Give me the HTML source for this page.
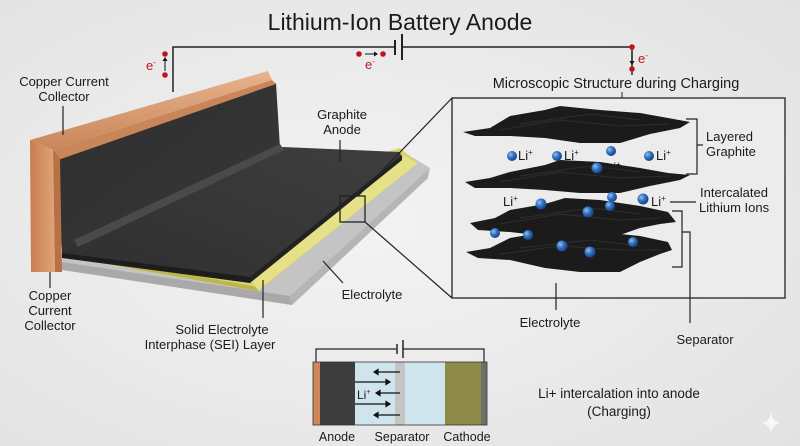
<!DOCTYPE html>
<html><head><meta charset="utf-8"><style>
html,body{margin:0;padding:0;background:#ebebeb;}
svg{display:block;}
text{font-family:"Liberation Sans",sans-serif;fill:#1a1a1a;}
</style></head><body>
<svg width="800" height="446" viewBox="0 0 800 446" xmlns="http://www.w3.org/2000/svg">
<defs>
<radialGradient id="bg" cx="0.45" cy="0.5" r="0.75"><stop offset="0" stop-color="#f3f3f3"/><stop offset="1" stop-color="#e2e2e2"/></radialGradient>
<linearGradient id="cu" x1="0" y1="0" x2="1" y2="0"><stop offset="0" stop-color="#c77d4e"/><stop offset="1" stop-color="#e0a478"/></linearGradient>
<linearGradient id="cu2" x1="0" y1="0" x2="0" y2="1"><stop offset="0" stop-color="#e8b48c"/><stop offset="1" stop-color="#c9855a"/></linearGradient>
<linearGradient id="wall" x1="0" y1="0" x2="1" y2="1"><stop offset="0" stop-color="#2e2e2e"/><stop offset="1" stop-color="#383838"/></linearGradient>
<linearGradient id="floor" x1="0" y1="1" x2="1" y2="0"><stop offset="0" stop-color="#2f2f2f"/><stop offset="1" stop-color="#3e3e3e"/></linearGradient>
<radialGradient id="ball" cx="0.35" cy="0.35" r="0.7"><stop offset="0" stop-color="#8fc0f0"/><stop offset="0.5" stop-color="#2f6fc0"/><stop offset="1" stop-color="#173e7a"/></radialGradient>
</defs>
<rect width="800" height="446" fill="url(#bg)"/>

<text x="400" y="30" font-size="23" text-anchor="middle">Lithium-Ion Battery Anode</text>

<!-- circuit -->
<polyline points="173,92 173,47 395,47" fill="none" stroke="#222" stroke-width="1.5"/>
<polyline points="403,47 632,47 632,75" fill="none" stroke="#222" stroke-width="1.5"/>
<line x1="395" y1="40" x2="395" y2="55" stroke="#222" stroke-width="2"/>
<line x1="402" y1="34" x2="402" y2="60" stroke="#222" stroke-width="2"/>
<circle cx="165" cy="54" r="2.8" fill="#c0141c"/><circle cx="165" cy="75" r="2.8" fill="#c0141c"/>
<line x1="165" y1="71" x2="165" y2="60" stroke="#111" stroke-width="1"/><path d="M162.5,61 L165,57 L167.5,61Z" fill="#111"/>
<text x="146" y="70" font-size="13" style="fill:#c0141c">e<tspan font-size="8" dy="-5">-</tspan></text>
<circle cx="359" cy="54" r="2.8" fill="#c0141c"/><circle cx="383" cy="54" r="2.8" fill="#c0141c"/>
<line x1="365" y1="54" x2="375" y2="54" stroke="#111" stroke-width="1"/><path d="M374,51.5 L378,54 L374,56.5Z" fill="#111"/>
<text x="365" y="69" font-size="13" style="fill:#c0141c">e<tspan font-size="8" dy="-5">-</tspan></text>
<circle cx="632" cy="47" r="2.8" fill="#c0141c"/><circle cx="632" cy="69" r="2.8" fill="#c0141c"/>
<line x1="632" y1="52" x2="632" y2="62" stroke="#111" stroke-width="1"/><path d="M629.5,61 L632,65 L634.5,61Z" fill="#111"/>
<text x="638" y="63" font-size="13" style="fill:#c0141c">e<tspan font-size="8" dy="-5">-</tspan></text>

<!-- slab: electrolyte grey -->
<polygon points="62,252 400,150 430,168 428,178 292,305 62,268" fill="#c4c4c4"/>
<polygon points="62,262 290,296 292,305 62,270" fill="#a9a9a9"/>
<polygon points="290,296 428,170 428,178 292,305" fill="#b5b5b5"/>
<!-- SEI yellow -->
<polygon points="62,248 400,148 418,163 258,291 62,256" fill="#d9d36a"/>
<polygon points="62,252 258,287 258,291 62,256" fill="#bdb64a"/>
<polygon points="250,280 404,156 418,163 258,290" fill="#e6e086"/>
<!-- graphite floor -->
<polygon points="62,250 74,243 283,147 400,152 402,160 250,282 62,256" fill="url(#floor)"/>
<polygon points="62,253 250,277 250,283 62,258" fill="#1d1d1d"/>
<polygon points="250,277 402,155 402,160 250,283" fill="#222"/>
<!-- wall -->
<polygon points="55,158 276,83 280,148 74,244 62,250" fill="url(#wall)"/>
<polygon points="74,240 280,144 284,150 78,247" fill="#4a4a4a"/>
<!-- copper -->
<polygon points="30,140 268,71 272,80 53,150" fill="url(#cu2)"/>
<polygon points="53,150 272,80 276,84 58,160" fill="#c98658"/>
<polygon points="30,140 53,150 55,272 31,272" fill="url(#cu)"/>
<polygon points="53,150 60,158 62,272 55,272" fill="#b87145"/>

<!-- zoom box & lines -->
<rect x="340" y="196" width="25" height="26" fill="none" stroke="#222" stroke-width="1.3"/>
<line x1="358" y1="196" x2="452" y2="98" stroke="#222" stroke-width="1.2"/>
<line x1="365" y1="222" x2="452" y2="298" stroke="#222" stroke-width="1.2"/>
<rect x="452" y="98" width="333" height="200" fill="#ececec" stroke="#222" stroke-width="1.3"/>
<text x="616" y="88" font-size="14.5" text-anchor="middle">Microscopic Structure during Charging</text>
<line x1="622" y1="92" x2="622" y2="98" stroke="#222" stroke-width="1"/>

<!-- graphite sheets -->
<g fill="#1b1b1b">
<polygon points="463,132 490,128 510,116 545,110 560,106 600,110 640,113 668,118 690,122 680,128 650,134 620,143 580,143 545,138 510,136 475,136"/>
<polygon points="465,182 490,178 510,172 545,165 560,160 600,162 640,168 668,173 690,175 680,180 650,186 620,193 580,193 545,190 510,188 475,188"/>
<polygon points="470,223 495,218 510,210 545,204 565,198 600,200 640,206 668,212 676,222 660,224 640,228 620,235 580,240 545,236 510,232 478,230"/>
<polygon points="466,252 490,248 510,238 545,232 565,230 600,232 640,236 668,242 672,250 660,254 640,262 620,272 580,272 545,268 510,260 478,258"/>
</g>
<g stroke="#2e2e2e" stroke-width="1" fill="none">
<path d="M500,130 L560,120 L620,126 L670,124 M520,124 L590,114 L640,120"/>
<path d="M500,182 L560,172 L620,178 L670,176 M520,176 L590,166 L640,172"/>
<path d="M500,224 L560,214 L620,220 L660,218 M520,218 L590,208 L640,214"/>
<path d="M500,254 L560,246 L620,250 L660,250 M520,248 L590,240 L640,246"/>
</g>
<g fill="url(#ball)">
<circle cx="512" cy="156" r="5"/><circle cx="557" cy="156" r="5"/><circle cx="611" cy="151" r="5"/><circle cx="649" cy="156" r="5"/>
<circle cx="597" cy="168" r="5.5"/><circle cx="612" cy="197" r="5"/><circle cx="541" cy="204" r="5.5"/><circle cx="588" cy="212" r="5.5"/>
<circle cx="610" cy="206" r="5"/><circle cx="643" cy="199" r="5.5"/><circle cx="495" cy="233" r="5"/><circle cx="528" cy="235" r="5"/>
<circle cx="562" cy="246" r="5.5"/><circle cx="590" cy="252" r="5.5"/><circle cx="633" cy="242" r="5"/>
</g>
<g font-size="13">
<text x="518" y="160">Li<tspan font-size="8" dy="-5">+</tspan></text>
<text x="564" y="160">Li<tspan font-size="8" dy="-5">+</tspan></text>
<text x="606" y="172">Li<tspan font-size="8" dy="-5">+</tspan></text>
<text x="656" y="160">Li<tspan font-size="8" dy="-5">+</tspan></text>
<text x="503" y="206">Li<tspan font-size="8" dy="-5">+</tspan></text>
<text x="651" y="206">Li<tspan font-size="8" dy="-5">+</tspan></text>
</g>
<g stroke="#222" stroke-width="1.2" fill="none">
<polyline points="686,119 697,119 697,174 686,174"/><line x1="697" y1="145" x2="703" y2="145"/>
<line x1="670" y1="202" x2="696" y2="202"/>
<polyline points="672,211 682,211 682,267 672,267"/>
<polyline points="682,232 690,232 690,323"/>
<line x1="556" y1="283" x2="556" y2="310"/>
</g>
<text x="706" y="141" font-size="13">Layered</text>
<text x="706" y="156" font-size="13">Graphite</text>
<text x="700" y="197" font-size="13">Intercalated</text>
<text x="699" y="212" font-size="13">Lithium Ions</text>
<text x="550" y="327" font-size="13" text-anchor="middle">Electrolyte</text>
<text x="705" y="344" font-size="13" text-anchor="middle">Separator</text>

<!-- left labels -->
<g font-size="13" text-anchor="middle">
<text x="64" y="86">Copper Current</text><text x="64" y="101">Collector</text>
<text x="342" y="119">Graphite</text><text x="342" y="134">Anode</text>
<text x="50" y="300">Copper</text><text x="50" y="315">Current</text><text x="50" y="330">Collector</text>
<text x="372" y="299">Electrolyte</text>
<text x="222" y="334">Solid Electrolyte</text><text x="210" y="349">Interphase (SEI) Layer</text>
</g>
<g stroke="#222" stroke-width="1.2">
<line x1="63" y1="106" x2="63" y2="135"/>
<line x1="340" y1="140" x2="340" y2="162"/>
<line x1="50" y1="272" x2="50" y2="288"/>
<line x1="323" y1="261" x2="343" y2="283"/>
<line x1="263" y1="280" x2="263" y2="318"/>
</g>

<!-- small cell diagram -->
<polyline points="316,362 316,349 396,349" fill="none" stroke="#222" stroke-width="1.2"/>
<polyline points="403,349 484,349 484,362" fill="none" stroke="#222" stroke-width="1.2"/>
<line x1="397" y1="344" x2="397" y2="354" stroke="#222" stroke-width="1.5"/>
<line x1="403" y1="340" x2="403" y2="358" stroke="#222" stroke-width="1.5"/>
<rect x="313" y="362" width="7" height="63" fill="#d0855a"/>
<rect x="320" y="362" width="35" height="63" fill="#3d3d3d"/>
<rect x="355" y="362" width="40" height="63" fill="#cfe5ee"/>
<rect x="395" y="362" width="10" height="63" fill="#c4c4c4"/>
<rect x="405" y="362" width="40" height="63" fill="#cfe5ee"/>
<rect x="445" y="362" width="36" height="63" fill="#8e8a48"/>
<rect x="481" y="362" width="6" height="63" fill="#6e6e6a"/>
<rect x="313" y="362" width="174" height="63" fill="none" stroke="#333" stroke-width="0.8"/>
<g stroke="#111" stroke-width="1.2" fill="#111">
<line x1="378" y1="372" x2="400" y2="372"/><path d="M378,369.5 L374,372 L378,374.5Z"/>
<line x1="355" y1="382" x2="386" y2="382"/><path d="M386,379.5 L390,382 L386,384.5Z"/>
<line x1="380" y1="393" x2="400" y2="393"/><path d="M380,390.5 L376,393 L380,395.5Z"/>
<line x1="355" y1="404" x2="386" y2="404"/><path d="M386,401.5 L390,404 L386,406.5Z"/>
<line x1="378" y1="415" x2="400" y2="415"/><path d="M378,412.5 L374,415 L378,417.5Z"/>
</g>
<text x="357" y="399" font-size="12">Li<tspan font-size="7" dy="-5">+</tspan></text>
<g font-size="12.5" text-anchor="middle">
<text x="337" y="441">Anode</text><text x="402" y="441">Separator</text><text x="467" y="441">Cathode</text>
</g>
<text x="619" y="398" font-size="13.5" text-anchor="middle">Li+ intercalation into anode</text>
<text x="619" y="416" font-size="13.5" text-anchor="middle">(Charging)</text>
<path d="M771,412 Q772,422 781,423 Q772,424 771,434 Q770,424 761,423 Q770,422 771,412Z" fill="#f8f8f8"/>
</svg>
</body></html>
